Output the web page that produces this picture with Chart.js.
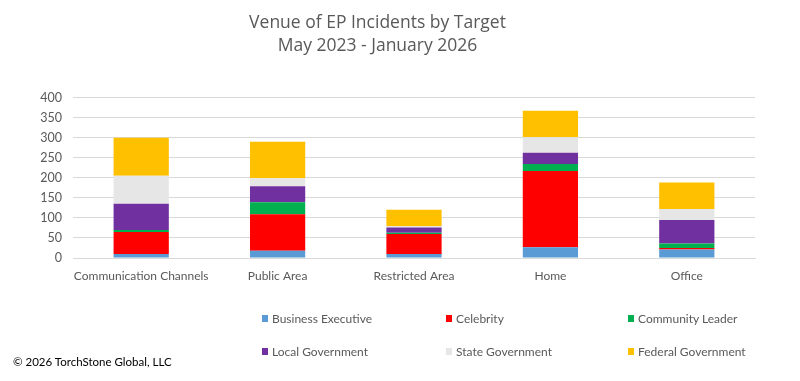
<!DOCTYPE html>
<html>
<head>
<meta charset="utf-8">
<script src="https://cdn.jsdelivr.net/npm/chart.js@4"></script>
<style>
  html,body{margin:0;padding:0;background:#fff;}
  #wrap{position:relative;width:800px;height:381px;}
  #legend{position:absolute;left:0;top:0;width:800px;height:381px;pointer-events:none;font-family:Lato,"Open Sans",sans-serif;font-size:12px;color:#595959;}
  .li{position:absolute;display:flex;align-items:center;white-space:nowrap;}
  .sw{width:6px;height:7px;margin-right:4px;display:inline-block;}
  #copy{position:absolute;left:13px;top:355px;font-family:Lato,"Open Sans",sans-serif;font-size:11.5px;color:#000;}
</style>
</head>
<body>
<div id="wrap">
  <canvas id="c" width="800" height="381"></canvas>
  <div id="legend"></div>
  <div id="copy">© 2026 TorchStone Global, LLC</div>
</div>
<script>
const categories = ["Communication Channels", "Public Area", "Restricted Area", "Home", "Office"];
const businessExecutive = [10, 18, 10, 27, 21];
const celebrity         = [55, 91, 50, 190, 4];
const communityLeader   = [5, 30, 3, 17, 11];
const localGovernment   = [65, 40, 13, 28, 59];
const stateGovernment   = [70, 20, 4, 39, 27];
const federalGovernment = [95, 91, 40, 66, 66];
const seriesNames = ["Business Executive", "Celebrity", "Community Leader", "Local Government", "State Government", "Federal Government"];
const seriesColors = ["#5B9BD5", "#FF0000", "#00B050", "#7030A0", "#E7E6E6", "#FFC000"];
const titleLines = ["Venue of EP Incidents by Target", "May 2023 - January 2026"];

const seriesData = [businessExecutive, celebrity, communityLeader, localGovernment, stateGovernment, federalGovernment];
const datasets = seriesNames.map((n, i) => ({
  label: n,
  data: seriesData[i],
  backgroundColor: seriesColors[i],
  borderWidth: 0,
  barPercentage: 1,
  categoryPercentage: 0.405
}));

const txt = "#595959";
const font = "Lato, 'Open Sans', sans-serif";

new Chart(document.getElementById("c"), {
  type: "bar",
  data: { labels: categories, datasets },
  options: {
    responsive: false,
    animation: false,
    layout: { padding: { left: 0, right: 45, top: 0, bottom: 0 } },
    plugins: {
      legend: { display: false },
      tooltip: { enabled: false },
      title: {
        display: true,
        text: titleLines,
        color: txt,
        font: { family: "'Open Sans', sans-serif", size: 17.5, weight: "normal", lineHeight: 1.3 },
        padding: { top: 12, bottom: 40 }
      }
    },
    scales: {
      x: {
        stacked: true,
        grid: { display: false },
        border: { display: true, color: "#D9D9D9", width: 1 },
        ticks: { color: txt, font: { family: font, size: 12 }, padding: 3, maxRotation: 0, autoSkip: false },
        afterFit: s => { s.height = 123; }
      },
      y: {
        stacked: true,
        min: 0, max: 400,
        ticks: { stepSize: 50, color: txt, font: { family: font, size: 12.5 }, padding: 11 },
        grid: { color: "#D9D9D9", drawTicks: false },
        border: { display: false },
        afterFit: s => { s.width = 73; }
      }
    }
  }
});

// HTML legend built from the series
const legendPos = [[262, 319], [446, 319], [628, 319], [262, 352], [446, 352], [628, 352]];
const lg = document.getElementById("legend");
seriesNames.forEach((n, i) => {
  const d = document.createElement("div");
  d.className = "li";
  d.style.left = legendPos[i][0] + "px";
  d.style.top = (legendPos[i][1] - 8) + "px";
  d.innerHTML = '<span class="sw" style="background:' + seriesColors[i] + '"></span><span>' + n + '</span>';
  lg.appendChild(d);
});
</script>
</body>
</html>
